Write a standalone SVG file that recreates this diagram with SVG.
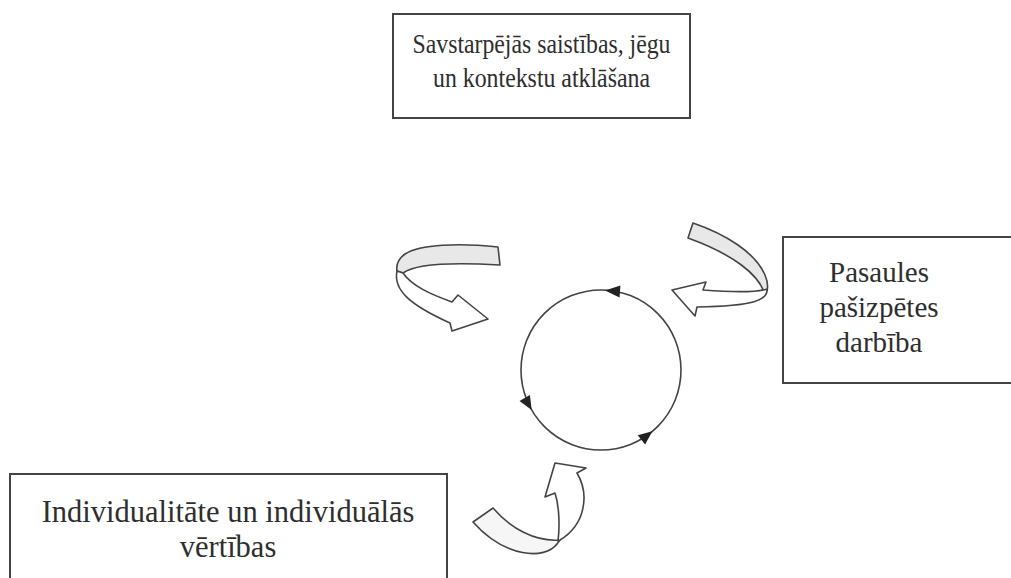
<svg xmlns="http://www.w3.org/2000/svg" width="1011" height="578" viewBox="0 0 1011 578">
<style>
.box{fill:#fff;stroke:#444;stroke-width:2}
.t{font-family:"Liberation Serif","Times New Roman",serif;fill:#2e2e2e;text-anchor:middle}
.back{fill:#e8e8e8;stroke:#444;stroke-width:1.6;stroke-linejoin:round}
.front{fill:#fff;stroke:#444;stroke-width:1.6;stroke-linejoin:round}
.cyc{fill:none;stroke:#444;stroke-width:1.6}
.head{fill:#222}
</style>
<rect width="1011" height="578" fill="#fff"/>
<g id="node-top">
<rect class="box" x="393" y="14" width="297" height="104"/>
<text class="t" x="541.5" y="53" font-size="28" textLength="258" lengthAdjust="spacingAndGlyphs">Savstarpējās saistības, jēgu</text>
<text class="t" x="541.5" y="87" font-size="28" textLength="217" lengthAdjust="spacingAndGlyphs">un kontekstu atklāšana</text>
</g>
<g id="node-right">
<rect class="box" x="783" y="237" width="240" height="146"/>
<text class="t" x="879" y="282" font-size="29">Pasaules</text>
<text class="t" x="879" y="317" font-size="29">pašizpētes</text>
<text class="t" x="879" y="352" font-size="29">darbība</text>
</g>
<g id="node-bottom">
<rect class="box" x="10" y="474" width="437" height="120"/>
<text class="t" x="228" y="522" font-size="30.5">Individualitāte un individuālās</text>
<text class="t" x="228" y="557" font-size="30.5">vērtības</text>
</g>
<g id="node-cycle">
<circle class="cyc" cx="601" cy="370" r="80"/>
<polygon class="head" points="605,290.5 620.4,285.4 619.6,297.4"/>
<polygon class="head" points="531.7,410 529.9,394.9 519.5,400.9"/>
<polygon class="head" points="652.4,431.3 645.1,444.6 637.7,435.2"/>
</g>
<g id="connectors">
<g id="arrow-top-left">
<path class="back" d="M 498,247 C 460,243 420,244 405,254 C 398,259 396,265 397,271 L 403,273 C 415,264 450,262 500,265 Z"/>
<path class="front" d="M 397,271 C 393,290 410,305 450,323 L 452,331 L 488,319 L 458,295 L 452,302 C 430,294 412,286 403,273 Z"/>
</g>
<g id="arrow-top-right">
<path class="back" d="M 693,223 C 725,234 755,252 765,275 C 768,282 768,287 767,291 L 764,292 C 758,275 735,255 688,238 Z"/>
<path class="front" d="M 767,289 C 768,300 755,306 697,307 L 695,316 L 672,290 L 706,282 L 703,290 C 730,292 755,293 767,289 Z"/>
</g>
<g id="arrow-bottom">
<path class="back" style="fill:#f6f6f6" d="M 493,508 C 510,528 535,542 560,540 L 557,544 C 545,560 505,558 473,522 Z"/>
<path class="front" d="M 558,541 C 560,525 559,505 555,493 L 545,497 L 555,463 L 586,468 L 577,473 C 590,495 585,525 560,540 Z"/>
</g>
</g>
</svg>
